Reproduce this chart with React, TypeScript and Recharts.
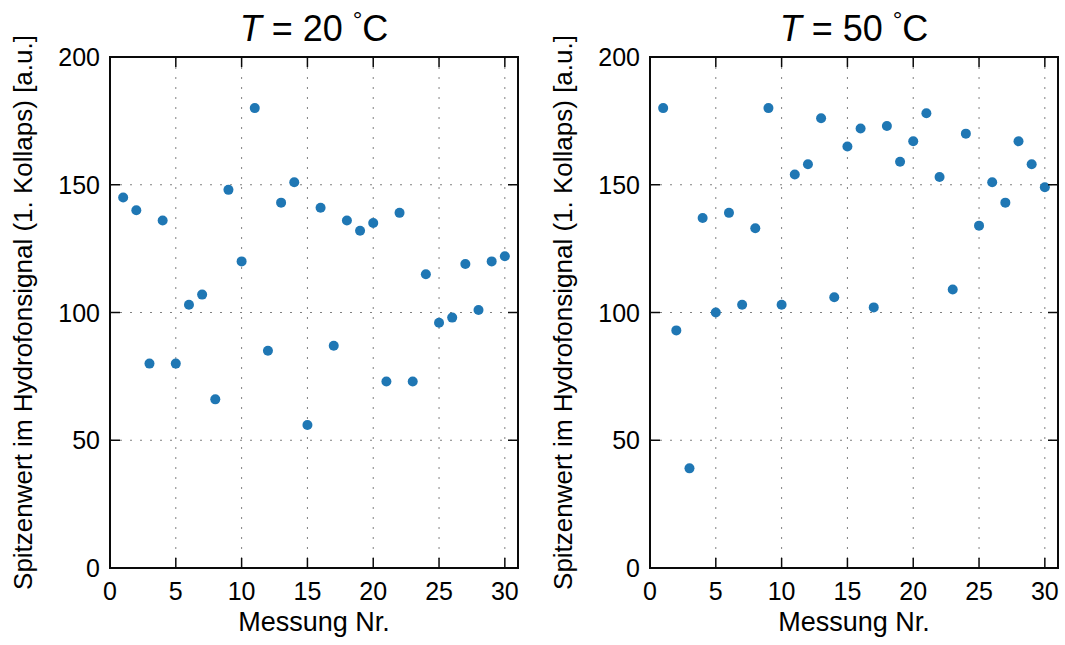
import React from "react";
import { ScatterChart, Scatter, XAxis, YAxis, CartesianGrid, ReferenceArea } from "recharts";

const measurementNr = [1,2,3,4,5,6,7,8,9,10,11,12,13,14,15,16,17,18,19,20,21,22,23,24,25,26,27,28,29,30];
const peak20 = [145,140,80,136,80,103,107,66,148,120,180,85,143,151,56,141,87,136,132,135,73,139,73,115,96,98,119,101,120,122];
const peak50 = [180,93,39,137,100,139,103,133,180,103,154,158,176,106,165,172,102,173,159,167,178,153,109,170,134,151,143,167,158,149];
const xTicks = [0,5,10,15,20,25,30];
const yTicks = [0,50,100,150,200];
const titles = ["20", "50"];
const xLabel = "Messung Nr.";
const yLabel = "Spitzenwert im Hydrofonsignal (1. Kollaps) [a.u.]";

const FONT = "'Liberation Sans', Arial, sans-serif";
const INK = "#0a0a0a";
const TICK_FS = 25;
const TL = 10;
const GAP = 8; // default tickSize (6) + tickMargin (2)
const PLOT_TOP = 57;
const PLOT_H = 511;
const PLOT_W = 408;

const BottomTick = (p: any) => {
  const x = Number(p.x);
  const y0 = Number(p.y) - GAP;
  const first = p.payload && p.payload.value === 0;
  return (
    <g>
      {first && <path d={`M${x},${PLOT_TOP}L${x + PLOT_W},${PLOT_TOP}`} stroke={INK} strokeWidth={2} fill="none" />}
      <path d={`M${x},${y0}L${x},${y0 - TL}`} stroke={INK} strokeWidth={1.5} fill="none" />
      <path d={`M${x},${PLOT_TOP}L${x},${PLOT_TOP + TL}`} stroke={INK} strokeWidth={1.5} fill="none" />
      <text x={x} y={y0 + 32} textAnchor="middle" fontFamily={FONT} fontSize={TICK_FS} fill="#000">{p.payload.value}</text>
    </g>
  );
};
const LeftTick = (p: any) => {
  const x0 = Number(p.x) + GAP;
  const y = Number(p.y);
  const xr = x0 + PLOT_W;
  const first = p.payload && p.payload.value === 0;
  return (
    <g>
      {first && <path d={`M${xr},${y}L${xr},${y - PLOT_H}`} stroke={INK} strokeWidth={2} fill="none" />}
      <path d={`M${x0},${y}L${x0 + TL},${y}`} stroke={INK} strokeWidth={1.5} fill="none" />
      <path d={`M${xr},${y}L${xr - TL},${y}`} stroke={INK} strokeWidth={1.5} fill="none" />
      <text x={x0 - 10} y={y + 9} textAnchor="end" fontFamily={FONT} fontSize={TICK_FS} fill="#000">{p.payload.value}</text>
    </g>
  );
};
const Dot = (p: any) => <circle cx={p.cx} cy={p.cy} r={5} fill="#1f77b4" />;

const makeXLabel = (t: string) => (props: any) => {
  const vb = props.viewBox || {};
  const cx = Number(vb.x) + Number(vb.width) / 2;
  const top = Number(vb.y);
  return (
    <g>
      <text x={cx} y={top + 63} textAnchor="middle" fontFamily={FONT} fontSize={27} fill="#000">{xLabel}</text>
      <text x={cx} y={PLOT_TOP - 16} textAnchor="middle" fontFamily={FONT} fontSize={36} fill="#000">
        <tspan fontStyle="italic">T</tspan>
        <tspan> = {t} </tspan>
        <tspan fontSize={24} dy={-13}>°</tspan>
        <tspan dy={13}>C</tspan>
      </text>
    </g>
  );
};

const YLabelContent = (props: any) => {
  const vb = props.viewBox || {};
  const cx = Number(vb.x) + 23;
  const cy = Number(vb.y) + Number(vb.height) / 2;
  return (
    <text x={cx} y={cy} transform={`rotate(-90, ${cx}, ${cy})`} dy={9} textAnchor="middle" fontFamily={FONT} fontSize={26} fill="#000">{yLabel}</text>
  );
};

function Panel({ values, width, rightMargin, t, left }: { values: number[]; width: number; rightMargin: number; t: string; left: number }) {
  const data = measurementNr.map((n, i) => ({ x: n, y: values[i] }));
  return (
    <div style={{ position: "absolute", left, top: 0 }}>
      <ScatterChart width={width} height={645} margin={{ top: PLOT_TOP, right: rightMargin, bottom: 0, left: 0 }}>
        <CartesianGrid stroke="#808080" strokeDasharray="2 8" />
        <ReferenceArea x1={0} x2={31} y1={0} y2={200} fill="none" stroke={INK} strokeWidth={2} />
        <XAxis dataKey="x" type="number" domain={[0, 31]} ticks={xTicks}
          height={645 - PLOT_TOP - PLOT_H} stroke={INK} strokeWidth={2}
          tickLine={{ stroke: "none" }} tick={BottomTick}
          label={{ content: makeXLabel(t) }} />
        <YAxis dataKey="y" type="number" domain={[0, 200]} ticks={yTicks}
          width={110} stroke={INK} strokeWidth={2}
          tickLine={{ stroke: "none" }} tick={LeftTick}
          label={{ content: YLabelContent }} />
        <Scatter data={data} shape={Dot} isAnimationActive={false} />
      </ScatterChart>
    </div>
  );
}

export default function App() {
  return (
    <div style={{ position: "absolute", left: 0, top: 0, width: 1065, height: 645 }}>
      <Panel values={peak20} width={540} rightMargin={22} t={titles[0]} left={0} />
      <Panel values={peak50} width={525} rightMargin={7} t={titles[1]} left={540} />
    </div>
  );
}
